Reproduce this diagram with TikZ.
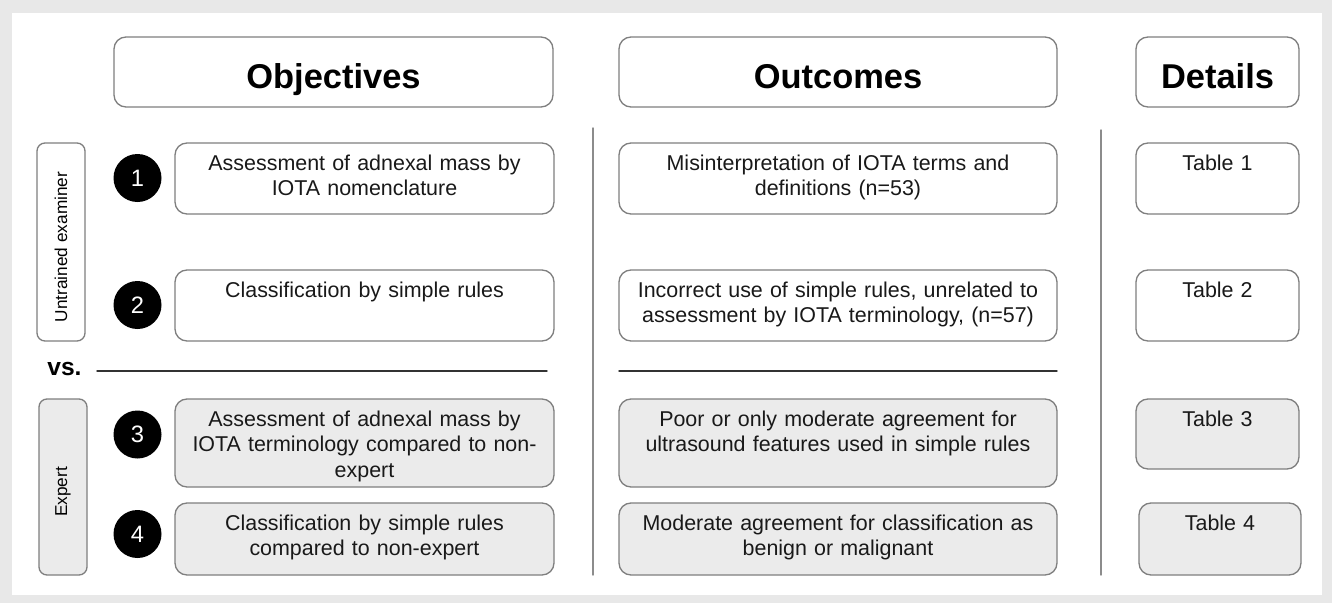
\documentclass[tikz,border=0pt]{standalone}
\usepackage{fontspec}
\setmainfont{Liberation Sans}
\definecolor{frame}{HTML}{E8E8E8}
\definecolor{edge}{HTML}{7F7F7F}
\definecolor{shade}{HTML}{EBEBEB}
\definecolor{rule}{HTML}{333333}
\definecolor{sep}{HTML}{8C8C8C}
\tikzset{
  box/.style={draw=edge, line width=.75pt, rounded corners=.24cm, inner sep=0pt},
  gbox/.style={box, fill=shade},
  hdr/.style={box, minimum height=1.40cm, text height=.64cm, text depth=0pt,
    font=\fontsize{19.6}{22}\selectfont\bfseries},
  txt/.style={anchor=base, text width=8.4cm, align=center, inner sep=0pt, text=black!90,
    font=\fontsize{12.2}{14.5}\selectfont},
  side/.style={rotate=90, inner sep=0pt, font=\fontsize{9.8}{12}\selectfont},
  num/.style={circle, fill=black, minimum size=.96cm, inner sep=0pt, text=white,
    font=\fontsize{13.5}{16}\selectfont}
}
\begin{document}
\begin{tikzpicture}[line cap=round, line join=round]
  \fill[frame] (0,0) rectangle (26.64,-12.06);
  \fill[white] (0.24,-0.26) rectangle (26.44,-11.90);
  \useasboundingbox (0,0) rectangle (26.64,-12.06);

  % column heads
  \node[hdr, minimum width=8.78cm] (hObj) at (6.67,-1.44) {Objectives};
  \node[hdr, minimum width=8.76cm] (hOut) at (16.76,-1.44) {Outcomes};
  \node[hdr, minimum width=3.26cm] (hDet) at (24.35,-1.44) {Details};

  % groups
  \node[box, rounded corners=.16cm, minimum width=.96cm, minimum height=3.96cm] (sU) at (1.22,-4.84) {};
  \node[side, xshift=-.1cm] (sUt) at (sU.center) {Untrained examiner};
  \node[gbox, rounded corners=.16cm, minimum width=.96cm, minimum height=3.52cm] (sE) at (1.26,-9.74) {};
  \node[side, xshift=-.1cm] (sEt) at (sE.center) {Expert};

  \node[num] (n1) at (2.75,-3.56) {1};
  \node[num] (n2) at (2.75,-6.10) {2};
  \node[num] (n3) at (2.75,-8.69) {3};
  \node[num] (n4) at (2.75,-10.68) {4};

  % objectives
  \node[box, minimum width=7.58cm, minimum height=1.42cm] (o1) at (7.29,-3.57) {};
  \node[txt] (o1t) at ([yshift=-.56cm]o1.north) {Assessment of adnexal mass by\\IOTA nomenclature};
  \node[box, minimum width=7.58cm, minimum height=1.42cm] (o2) at (7.29,-6.11) {};
  \node[txt] (o2t) at ([yshift=-.56cm]o2.north) {Classification by simple rules};
  \node[gbox, minimum width=7.58cm, minimum height=1.76cm] (o3) at (7.29,-8.86) {};
  \node[txt] (o3t) at ([yshift=-.56cm]o3.north) {Assessment of adnexal mass by\\IOTA terminology compared to non-\\expert};
  \node[gbox, minimum width=7.58cm, minimum height=1.44cm] (o4) at (7.29,-10.78) {};
  \node[txt] (o4t) at ([yshift=-.56cm]o4.north) {Classification by simple rules\\compared to non-expert};

  % outcomes
  \node[box, minimum width=8.76cm, minimum height=1.42cm] (c1) at (16.76,-3.57) {};
  \node[txt] (c1t) at ([yshift=-.56cm]c1.north) {Misinterpretation of IOTA terms and\\definitions (n=53)};
  \node[box, minimum width=8.76cm, minimum height=1.42cm] (c2) at (16.76,-6.11) {};
  \node[txt] (c2t) at ([yshift=-.56cm]c2.north) {Incorrect use of simple rules, unrelated to\\assessment by IOTA terminology, (n=57)};
  \node[gbox, minimum width=8.76cm, minimum height=1.76cm] (c3) at (16.76,-8.86) {};
  \node[txt] (c3t) at ([yshift=-.56cm]c3.north) {Poor or only moderate agreement for\\ultrasound features used in simple rules};
  \node[gbox, minimum width=8.76cm, minimum height=1.44cm] (c4) at (16.76,-10.78) {};
  \node[txt] (c4t) at ([yshift=-.56cm]c4.north) {Moderate agreement for classification as\\benign or malignant};

  % details
  \node[box, minimum width=3.26cm, minimum height=1.42cm] (t1) at (24.35,-3.57) {};
  \node[txt] (t1t) at ([yshift=-.56cm]t1.north) {Table 1};
  \node[box, minimum width=3.26cm, minimum height=1.42cm] (t2) at (24.35,-6.11) {};
  \node[txt] (t2t) at ([yshift=-.56cm]t2.north) {Table 2};
  \node[gbox, minimum width=3.26cm, minimum height=1.40cm] (t3) at (24.35,-8.68) {};
  \node[txt] (t3t) at ([yshift=-.56cm]t3.north) {Table 3};
  \node[gbox, minimum width=3.24cm, minimum height=1.44cm] (t4) at (24.40,-10.78) {};
  \node[txt] (t4t) at ([yshift=-.56cm]t4.north) {Table 4};

  % vs. divider
  \node[anchor=base west, inner sep=0pt, font=\fontsize{14}{16}\selectfont\bfseries] (vs) at (0.94,-7.50) {vs.};
  \coordinate (La) at (1.94,-7.42);
  \coordinate (Lb) at (10.94,-7.42);
  \coordinate (Lc) at (12.38,-7.42);
  \coordinate (Ld) at (21.14,-7.42);
  \draw[rule, line width=.8pt] (La)--(Lb) (Lc)--(Ld);

  % column separators
  \coordinate (Va) at (11.86,-2.56);
  \coordinate (Vb) at (11.86,-11.50);
  \coordinate (Vc) at (22.02,-2.60);
  \coordinate (Vd) at (22.02,-11.50);
  \draw[sep, line width=.8pt] (Va)--(Vb) (Vc)--(Vd);
\end{tikzpicture}
\end{document}
